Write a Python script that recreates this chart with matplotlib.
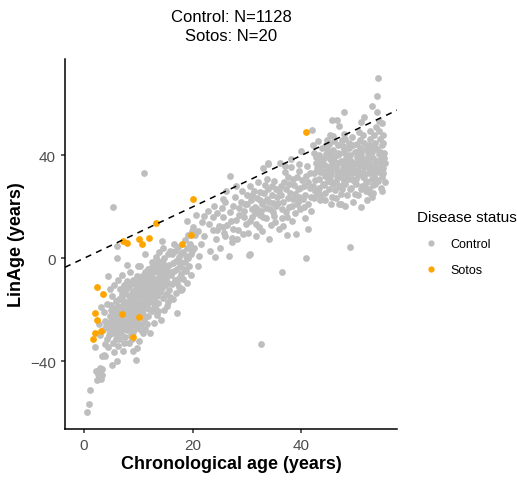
import matplotlib
matplotlib.use("Agg")
import matplotlib.pyplot as plt
from matplotlib.lines import Line2D

plt.rcParams['font.family'] = ['Liberation Sans', 'DejaVu Sans']

# Sotos patients (age, LinAge)
sotos_age = [40.9, 20.0, 13.3, 7.1, 8.0, 10.1, 10.6, 12.0, 19.7, 18.0,
             2.3, 3.5, 2.0, 2.3, 7.0, 10.1, 2.0, 3.1, 1.6, 9.0]
sotos_lin = [49.2, 23.2, 13.9, 6.6, 6.1, 7.3, 5.7, 7.7, 9.2, 5.4,
             -11.2, -13.9, -21.3, -24.0, -21.5, -22.7, -28.9, -28.4, -31.4, -30.6]

# control points (age, LinAge)
control_pts = [
    # youngest tail + stray points
    (0.6,-59.7),(1.0,-56.5),(1.1,-51.2),(2.2,-43.8),(2.5,-45.0),(2.8,-46.2),(3.0,-44.0),(3.2,-47.0),
    (2.4,-47.5),(2.9,-42.8),(3.3,-45.5),(3.4,-43.0),(3.3,-38.0),(3.7,-37.8),(3.9,-37.9),(2.0,-34.6),
    (3.9,-33.3),(4.2,-31.4),(3.0,-30.0),(3.5,-28.0),(2.8,-25.5),(3.8,-24.5),(4.0,-26.5),(3.6,-21.0),
    (3.2,-19.0),(4.3,-17.8),(4.5,-6.8),(6.0,0.0),(6.1,4.7),(5.3,19.8),(11.0,33.3),
    # 4-6
    (4.4,-34.5),(4.6,-30.0),(4.8,-28.5),(5.0,-26.0),(5.2,-24.0),(4.7,-22.5),(5.5,-21.0),(5.8,-19.5),
    (4.9,-18.0),(5.1,-41.4),(6.0,-40.1),(5.6,-36.5),(5.3,-33.0),(5.9,-31.5),(4.6,-27.2),(5.4,-29.0),
    (5.7,-27.5),(5.0,-23.0),(5.5,-25.5),(6.0,-23.5),(5.9,-16.5),(5.2,-14.5),(4.8,-12.0),(5.6,-10.5),
    (5.0,-20.0),(4.4,-25.0),(5.8,-22.8),(5.3,-27.0),(5.8,-25.0),
    # 6-8
    (6.3,-34.0),(7.2,-36.0),(6.5,-31.5),(6.8,-29.0),(7.0,-27.0),(6.2,-26.5),(7.5,-25.0),(6.6,-24.0),
    (7.1,-22.5),(7.8,-21.5),(6.4,-21.0),(6.9,-19.5),(7.3,-18.0),(7.7,-17.0),(6.5,-16.0),(7.0,-15.0),
    (7.6,-13.5),(6.7,-12.0),(7.4,-10.5),(7.9,-9.0),(6.2,-8.5),(7.0,-6.5),(7.9,-28.0),(6.1,-29.5),
    (7.6,-30.5),(6.8,-23.0),(7.3,-24.5),(7.8,-19.0),(6.3,-18.5),(7.2,-16.5),(6.6,-27.8),(7.5,-20.2),
    (6.9,-14.0),(7.7,-11.8),(6.4,-24.8),(6.9,-25.5),(7.4,-27.0),(7.9,-24.5),(6.1,-20.0),(6.6,-19.0),
    (7.1,-20.8),(7.6,-23.0),(7.4,-33.0),
    # 8-10
    (9.5,-39.6),(9.1,-36.0),(9.7,-35.0),(8.2,-33.0),(8.6,-30.0),(9.0,-28.5),(8.4,-27.0),(9.3,-26.0),
    (9.8,-25.0),(8.1,-24.0),(8.7,-23.0),(9.2,-22.0),(9.6,-21.0),(8.3,-20.5),(8.9,-19.5),(9.4,-18.5),
    (9.9,-17.5),(8.5,-17.0),(9.0,-16.0),(9.5,-15.0),(8.2,-14.5),(8.8,-13.5),(9.3,-12.5),(9.8,-11.5),
    (8.6,-10.0),(9.1,-8.5),(9.7,-7.0),(8.4,-5.5),(9.9,-3.0),(8.0,-2.5),(9.0,-22.8),(8.5,-25.8),
    (9.6,-19.8),(8.8,-16.8),(9.4,-13.8),(8.3,-11.2),(9.2,-20.8),(9.8,-27.0),(8.4,-22.0),(8.9,-21.0),
    (9.4,-23.8),(9.9,-20.5),(8.1,-18.5),(8.6,-15.5),(9.1,-13.0),(9.6,-10.5),(8.0,-26.5),(8.9,-24.5),
    (8.9,-31.5),
    # 10-12
    (10.2,-32.0),(10.8,-29.0),(11.3,-27.5),(10.5,-25.5),(11.0,-24.0),(11.7,-22.5),(10.3,-21.5),(10.9,-20.0),
    (11.5,-19.0),(10.1,-18.0),(10.7,-17.0),(11.2,-16.0),(11.8,-15.0),(10.4,-14.0),(11.0,-13.0),(11.6,-12.0),
    (10.2,-11.0),(10.8,-10.0),(11.4,-9.0),(11.9,-8.0),(10.6,-7.0),(11.2,-5.5),(11.8,-4.0),(10.3,-3.0),
    (11.2,1.7),(10.9,-22.2),(11.5,-17.8),(10.5,-15.2),(11.3,-11.0),(11.9,-19.8),(10.0,-13.0),(10.7,-8.5),
    (10.4,-19.0),(10.9,-17.5),(11.4,-14.5),(11.9,-12.8),(10.1,-9.0),(10.6,-11.8),(11.1,-8.0),(11.6,-6.5),
    (10.5,-28.0),(11.6,-25.5),
    # 12-14
    (12.2,-29.2),(12.8,-25.0),(13.4,-22.0),(12.5,-20.5),(13.0,-19.0),(13.7,-17.5),(12.3,-16.5),(12.9,-15.5),
    (13.5,-14.5),(12.1,-13.5),(12.7,-12.5),(13.3,-11.5),(13.9,-10.5),(12.4,-9.5),(13.0,-8.5),(13.6,-7.5),
    (12.2,-6.5),(12.8,-5.5),(13.4,-4.5),(13.9,-3.0),(12.6,-1.5),(13.2,0.5),(13.8,2.5),(12.0,-10.8),
    (13.1,-13.2),(12.9,-17.8),(13.6,-20.5),(12.5,-3.5),(13.5,-9.2),(12.4,-14.8),(12.9,-11.0),(13.4,-8.0),
    (13.9,-6.0),(12.1,-4.0),(12.6,-7.5),(13.1,-3.0),(13.6,-1.0),
    # 14-16
    (14.4,6.9),(14.2,-24.0),(14.8,-20.0),(15.4,-17.0),(14.5,-15.5),(15.0,-14.0),(15.6,-12.5),(14.3,-11.5),
    (14.9,-10.5),(15.5,-9.5),(14.1,-8.5),(14.7,-7.5),(15.3,-6.5),(15.9,-5.5),(14.4,-4.5),(15.0,-3.5),
    (15.6,-2.5),(14.2,-1.5),(14.8,0.0),(15.4,1.5),(15.9,3.0),(14.6,4.0),(15.2,-18.5),(15.8,-15.0),
    (14.0,-13.0),(15.1,-8.0),(14.5,-2.0),(14.4,-7.0),(14.9,-4.5),
    # 16-18
    (17.1,-21.4),(16.3,-16.0),(16.9,-13.5),(17.5,-11.0),(16.2,-10.0),(16.8,-8.5),(17.4,-7.5),(17.9,-6.0),
    (16.5,-5.0),(17.1,-4.0),(17.7,-3.0),(16.3,-2.0),(16.9,-1.0),(17.5,0.5),(16.1,1.5),(16.7,3.0),
    (17.3,4.5),(17.9,2.0),(16.6,5.5),(17.2,-9.5),(17.8,-12.5),(16.0,-6.5),(17.6,-1.5),
    # 18-20
    (18.2,-8.0),(18.8,-5.0),(19.4,-3.0),(18.5,-1.5),(19.1,0.0),(19.7,1.5),(18.3,2.5),(18.9,4.0),
    (19.5,5.5),(18.6,7.0),(19.2,9.0),(19.8,10.5),(18.1,-12.0),(19.0,-9.5),(19.6,-6.5),(18.4,-4.0),
    (19.9,3.0),(18.7,0.8),
    # 20-25
    (20.0,12.0),(20.5,9.0),(21.0,10.5),(21.1,1.0),(22.0,8.8),(23.2,3.0),(22.0,16.6),(23.8,15.9),
    (23.8,11.1),(25.0,3.9),(20.3,4.0),(21.0,-2.9),(21.5,5.5),(24.1,0.4),(24.2,7.5),(24.8,12.5),
    (24.5,17.5),(23.0,13.5),(22.8,18.5),(24.0,20.5),(21.8,14.0),(20.6,17.0),(19.0,14.5),(24.4,10.8),
    # 25-30
    (26.9,31.9),(26.0,22.0),(25.6,16.0),(25.6,23.1),(26.6,1.0),(27.2,6.2),(27.2,8.0),(25.8,10.0),
    (26.3,13.0),(26.8,18.0),(27.5,20.5),(28.0,15.0),(28.4,11.0),(28.8,22.0),(29.0,26.3),(29.4,18.5),
    (29.8,13.5),(26.2,26.0),(27.8,24.0),(28.2,7.5),(29.2,9.5),(29.6,21.0),(25.3,19.5),(27.0,14.5),
    (28.6,17.0),(26.0,8.5),(29.9,24.5),(28.0,28.0),(27.4,11.5),(25.5,12.0),(28.5,19.5),(29.5,16.0),
    # 30-35
    (30.3,1.3),(30.6,1.8),(32.4,25.6),(33.0,35.0),(33.9,36.7),(33.9,37.0),(30.5,28.0),(31.0,16.0),
    (31.4,20.0),(31.8,23.5),(32.2,12.0),(32.6,18.5),(33.0,22.0),(33.4,15.5),(33.8,27.0),(34.2,19.0),
    (34.6,24.5),(35.0,30.0),(30.2,10.0),(30.8,22.5),(31.6,8.5),(32.0,29.5),(32.8,10.5),(33.6,31.0),
    (34.4,13.0),(34.8,21.5),(31.2,26.0),(32.4,17.0),(33.2,25.5),(34.0,7.5),(30.9,19.0),(31.7,13.5),
    (33.5,19.5),(34.9,16.5),(32.5,-33.2),(31.5,17.5),(32.7,21.0),(33.7,23.0),(34.5,28.0),
    (30.0,21.0),(30.5,14.5),(31.0,24.5),(31.9,19.0),(32.3,22.5),(32.9,16.0),(33.3,28.5),(34.1,22.0),
    (34.7,18.0),
    # 35-42
    (36.0,37.1),(36.5,-5.2),(35.8,11.4),(36.2,28.0),(36.7,22.0),(37.1,18.0),(37.5,31.5),(37.9,25.5),
    (38.3,14.5),(38.7,28.5),(39.1,21.0),(39.5,34.0),(39.9,41.9),(40.7,15.7),(41.3,11.4),(35.4,20.5),
    (35.9,26.0),(36.4,15.5),(36.9,33.5),(37.3,9.0),(37.7,20.0),(38.1,35.5),(38.5,23.0),(38.9,17.5),
    (39.3,27.0),(39.7,19.0),(40.2,30.5),(40.6,24.5),(41.0,36.0),(41.5,27.5),(40.4,20.0),(41.2,21.0),
    (38.0,38.5),(36.6,12.5),(39.0,9.5),(40.9,0.1),(42.0,49.9),(35.5,24.0),(36.5,19.0),(37.5,23.5),
    (38.5,31.0),(39.5,24.0),(40.5,28.0),(35.2,14.0),(37.2,27.0),(39.2,31.5),(41.6,33.0),(41.8,24.0),
    (35.3,27.0),(35.7,21.5),(36.3,24.5),(36.8,29.5),(37.4,16.0),(37.8,29.0),(38.2,20.5),(38.8,25.0),
    (39.4,22.0),(39.8,27.5),(40.3,23.0),(40.8,32.0),(41.3,29.5),(41.7,18.5),(39.6,36.5),(37.0,36.0),
    # 42-55 dense block + edges
    (48.9,4.2),(47.9,56.7),(45.6,53.6),(46.6,53.6),(47.0,51.6),(51.0,53.0),(51.5,55.0),(54.1,70.2),
    (53.9,63.2),(53.0,59.4),(54.0,56.8),(54.8,26.0),(52.6,25.4),(51.0,19.8),(48.1,20.2),(45.5,21.1),
    (46.9,21.1),(43.5,22.5),(52.0,22.5),(49.5,22.0),(47.2,21.0),(51.5,28.0),
    (42.2,28),(42.4,33),(42.6,37),(42.3,41),(42.8,25),(42.5,30.5),(42.9,35),(42.1,44),(42.7,39.5),(42.4,23.5),
    (43.1,26),(43.3,31),(43.5,35.5),(43.2,40),(43.7,43),(43.9,29),(43.4,33.5),(43.8,37.5),(43.0,45.5),
    (43.6,24.5),(43.2,27.5),
    (44.1,28.5),(44.3,32),(44.6,36),(44.2,39),(44.8,42.5),(44.4,25.5),(44.9,30),(44.5,34),(44.0,37),
    (44.7,46),(44.3,22.5),(44.6,40.5),
    (45.1,27),(45.3,31.5),(45.5,35),(45.2,38.5),(45.8,42),(45.9,29),(45.4,33),(45.7,37),(45.0,44.5),
    (45.6,24),(45.3,40.5),(45.9,47.5),
    (46.1,26.5),(46.4,30),(46.6,34),(46.2,37.5),(46.8,41),(46.9,28),(46.5,32),(46.3,35.5),(46.0,39.5),
    (46.7,44),(46.4,23.5),(46.8,37),
    (47.1,28),(47.3,31.5),(47.6,35),(47.2,38),(47.8,42),(47.9,30),(47.4,33.5),(47.7,37),(47.0,40.5),
    (47.5,46),(47.3,25),(47.8,48.5),
    (48.1,29),(48.4,32.5),(48.6,36),(48.2,39),(48.8,43),(48.9,27),(48.5,34.5),(48.3,37.5),(48.0,41),
    (48.7,45),(48.4,24.5),(48.6,31),
    (49.1,27.5),(49.3,31),(49.6,34.5),(49.2,38),(49.8,41.5),(49.9,29.5),(49.4,33),(49.7,36.5),(49.0,40),
    (49.5,44),(49.3,47),(49.8,25),
    (50.1,29),(50.4,32.5),(50.6,36),(50.2,39.5),(50.8,43),(50.9,27),(50.5,34),(50.3,37.5),(50.0,41.5),
    (50.7,46),(50.4,24.5),(50.6,49),
    (51.1,28),(51.3,31.5),(51.6,35.5),(51.2,39),(51.8,42.5),(51.9,30),(51.4,33.5),(51.7,37.5),(51.0,41),
    (51.5,45),(51.3,48),(51.8,26),
    (52.1,29.5),(52.4,33),(52.6,36.5),(52.2,40),(52.8,43.5),(52.9,31),(52.5,35),(52.3,38.5),(52.0,42),
    (52.7,46.5),(52.4,27),(52.6,49.5),(52.9,24),
    (53.1,28.5),(53.3,32),(53.6,35.5),(53.2,39),(53.8,42.5),(53.9,30.5),(53.4,34),(53.7,37.5),(53.0,41.5),
    (53.5,45),(53.3,48),(53.8,51),(53.1,25.5),
    (54.1,30),(54.3,33.5),(54.6,37),(54.2,40.5),(54.8,44),(54.9,31.5),(54.4,35),(54.7,38.5),(54.0,42.5),
    (54.5,46.5),(54.3,49.5),(54.8,52.5),(54.6,27.5),(54.2,53.5),
    (55.1,33),(55.3,37),(55.2,41),(55.0,45),(55.3,29.5),(55.1,48),
    (42.5,26),(43.5,38.5),(44.5,44),(45.5,29.5),(46.5,40),(47.5,27),(48.5,39.5),(49.5,30.5),(50.5,40.5),
    (51.5,32),(52.5,44),(53.5,29),(54.5,41.5),(55.0,35),(45.0,35),(47.0,33),(49.0,35.5),(51.0,36.5),
    (53.0,33.5),(50.0,31),(48.0,46.5),(46.0,45.5),(44.0,33.5),(52.0,37.5),(54.0,38),(43.0,36),(55.2,39),
    (50.2,44.5),(47.6,43.5),(45.2,48),
]
control_age = [p[0] for p in control_pts]
control_lin = [p[1] for p in control_pts]

title_text = "Control: N=1128\nSotos: N=20"
col_control = "#BEBEBE"
col_sotos = "#FFA500"

fig = plt.figure(figsize=(5.17, 4.81), dpi=100)
ax = fig.add_axes([0.1257, 0.106, 0.768 - 0.1257, 0.8753 - 0.106])

ax.scatter(control_age, control_lin, s=24, c=col_control, linewidths=0, zorder=2)
ax.scatter(sotos_age, sotos_lin, s=24, c=col_sotos, linewidths=0, zorder=3)
ax.axline((0, 0), slope=1, color="black", linestyle=(0, (4, 3.5)), linewidth=1.1, zorder=4)

ax.set_xlim(-3.5, 57.6)
ax.set_ylim(-66.4, 77.5)
ax.set_xticks([0, 20, 40])
ax.set_yticks([-40, 0, 40])
for side in ["top", "right"]:
    ax.spines[side].set_visible(False)
for side in ["left", "bottom"]:
    ax.spines[side].set_linewidth(1.1)
ax.tick_params(axis="both", labelsize=11, labelcolor="#4D4D4D", length=3, width=1.1, color="#333333")

ax.set_xlabel("Chronological age (years)", fontsize=13, fontweight="bold", labelpad=2)
ax.set_ylabel("LinAge (years)", fontsize=13, fontweight="bold", labelpad=4)
ax.set_title(title_text, fontsize=12, pad=14, linespacing=1.3)

handles = [
    Line2D([], [], marker="o", linestyle="", markersize=4.5, markerfacecolor=col_control, markeredgewidth=0),
    Line2D([], [], marker="o", linestyle="", markersize=4.5, markerfacecolor=col_sotos, markeredgewidth=0),
]
leg = fig.legend(handles, ["Control", "Sotos"], title="Disease status", loc="upper left",
                 bbox_to_anchor=(0.795, 0.575), frameon=False, fontsize=9, title_fontsize=11,
                 handletextpad=0.45, labelspacing=1.15, borderpad=0, handlelength=2.2)
leg._legend_box.align = "left"

fig.savefig("out.png", dpi=100)
